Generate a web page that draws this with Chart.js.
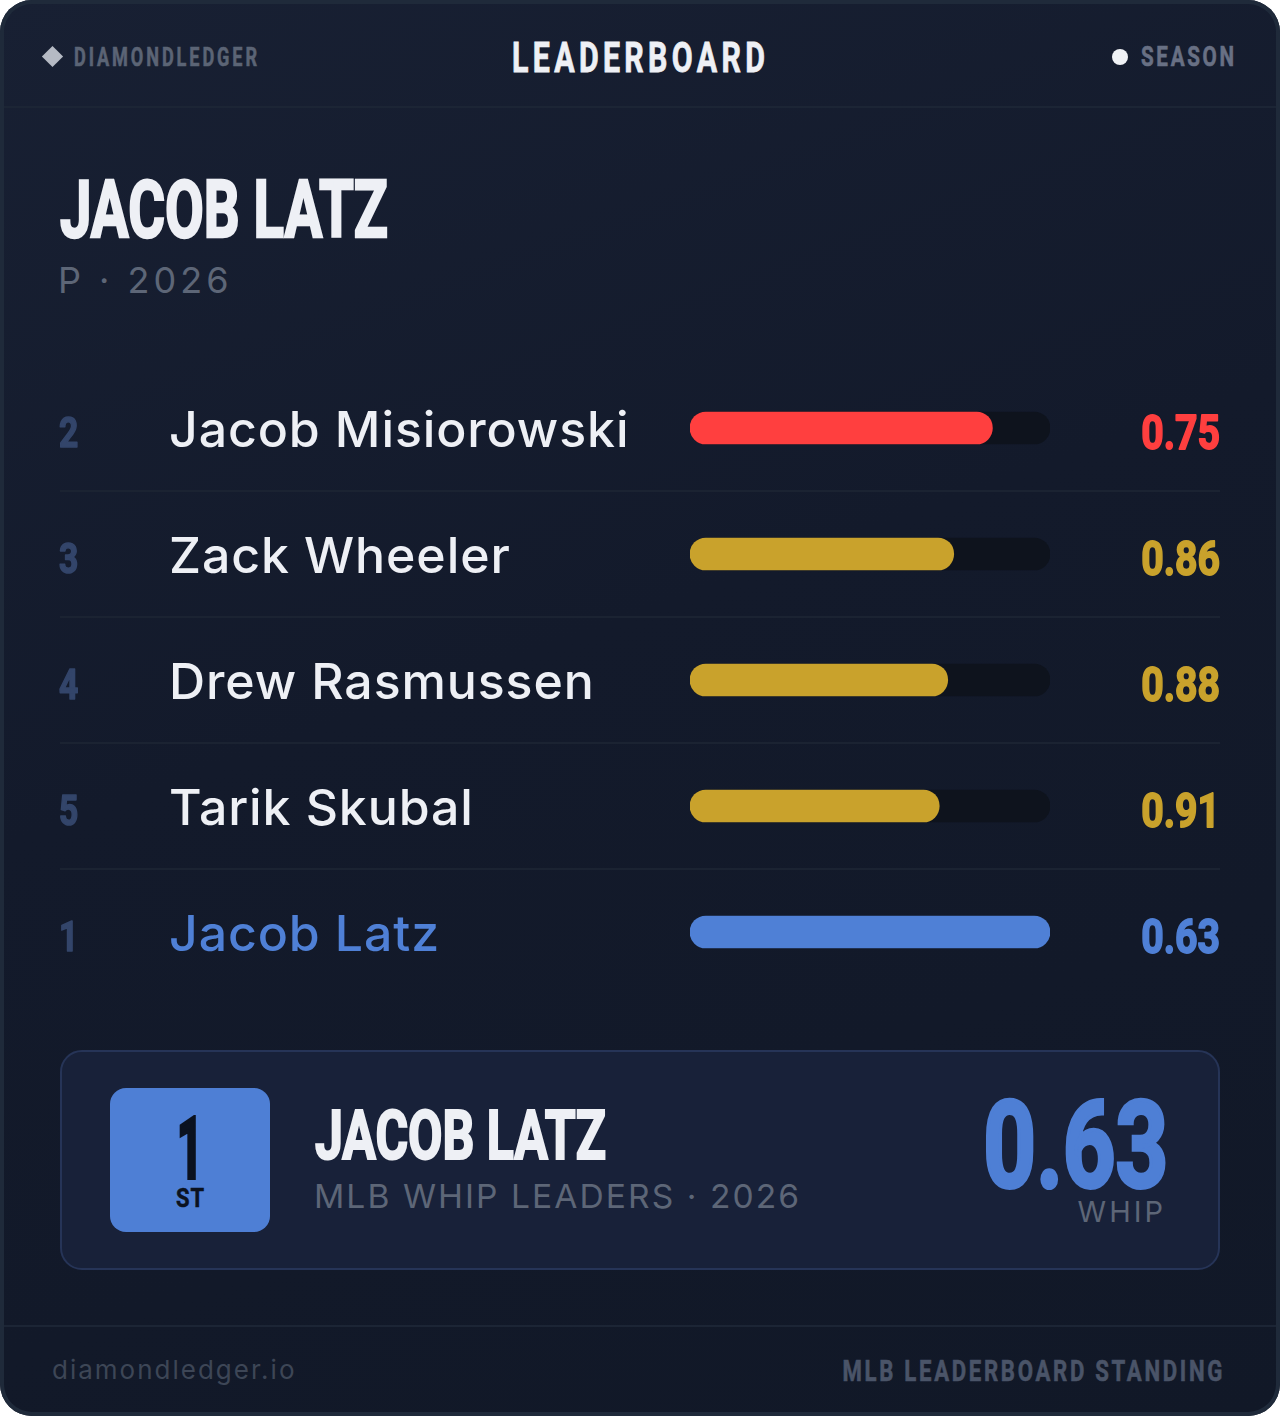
<!DOCTYPE html>
<html>
<head>
<meta charset="utf-8">
<script src="https://cdn.jsdelivr.net/npm/chart.js@4.4.1/dist/chart.umd.min.js"></script>
<style>
  html, body { margin: 0; padding: 0; background: #ffffff; }
  body { width: 1280px; height: 1416px; position: relative; overflow: hidden; font-family: Inter, 'Noto Sans', sans-serif; }
  .card {
    position: absolute; left: 0; top: 0; width: 1280px; height: 1416px;
    border-radius: 32px; box-shadow: inset 0 0 0 4px #1f2a3a;
    background: linear-gradient(160deg, #182033 0%, #131a2b 45%, #111827 100%);
  }
  .abs { position: absolute; white-space: nowrap; line-height: 1; }
  .cond { font-family: Roboto, 'Liberation Sans', sans-serif; font-weight: 700; transform-origin: 0 0; }
  .cond.r { transform-origin: 100% 0; }
  .line { position: absolute; left: 4px; right: 4px; height: 2px; background: #1c2535; }
  .diamond { left: 45px; top: 49px; width: 15px; height: 15px; background: #b5bac4; transform: rotate(45deg); }
  .brand { left: 74px; top: 45px; font-size: 25px; letter-spacing: 4px; color: #5b6475; -webkit-text-stroke: 0.6px #5b6475; }
  .title { left: 512px; top: 37px; font-size: 42px; letter-spacing: 6px; color: #eef0f5; -webkit-text-stroke: 0.8px #eef0f5; }
  .dot { left: 1112px; top: 49px; width: 16px; height: 16px; border-radius: 50%; background: #f0f2f6; }
  .season { left: 1141px; top: 44px; font-size: 27px; letter-spacing: 3.5px; color: #687084; -webkit-text-stroke: 0.6px #687084; }
  .player { left: 60px; top: 170px; font-size: 80px; color: #eef0f5; -webkit-text-stroke: 2.5px #eef0f5; }
  .sub { left: 58px; top: 262px; font-size: 36px; color: #5d6677; letter-spacing: 4px; }
  #chartBox { position: absolute; left: 0; top: 365px; width: 1280px; height: 630px; }
  .box {
    left: 60px; top: 1050px; width: 1160px; height: 220px; box-sizing: border-box;
    border: 2px solid #263457; border-radius: 22px; background: #182139;
  }
  .badge { left: 110px; top: 1088px; width: 160px; height: 144px; border-radius: 16px; background: #4e7fd5; }
  .badge1 { left: 177px; top: 1106px; font-size: 86px; color: #0b1220; -webkit-text-stroke: 4px #0b1220; }
  .badgeSt { left: 176px; top: 1186px; font-size: 25px; color: #0b1220; letter-spacing: 1px; -webkit-text-stroke: 0.5px #0b1220; }
  .bname { left: 315px; top: 1101px; font-size: 69px; color: #eef0f5; -webkit-text-stroke: 2.2px #eef0f5; }
  .bsub { left: 314px; top: 1180px; font-size: 33px; color: #5d6677; letter-spacing: 2px; }
  .bval { right: 112px; top: 1086px; font-size: 120px; color: #4e7fd5; -webkit-text-stroke: 4px #4e7fd5; }
  .bunit { right: 114px; top: 1197px; font-size: 29px; color: #5d6677; letter-spacing: 3px; }
  .site { left: 52px; top: 1357px; font-size: 26px; color: #3d4656; letter-spacing: 2px; }
  .stand { right: 55px; top: 1357px; font-size: 29px; color: #4a5468; letter-spacing: 3.5px; -webkit-text-stroke: 0.6px #4a5468; }
</style>
</head>
<body>
<div class="card"></div>
<div class="line" style="top:106px"></div>
<div class="abs diamond"></div>
<div class="abs brand cond" data-w="183">DIAMONDLEDGER</div>
<div class="abs title cond" data-w="253">LEADERBOARD</div>
<div class="abs dot"></div>
<div class="abs season cond" data-w="93">SEASON</div>

<div class="abs player cond" data-w="328">JACOB LATZ</div>
<div class="abs sub">P · 2026</div>

<div id="chartBox"><canvas id="board"></canvas></div>

<div class="abs box"></div>
<div class="abs badge"></div>
<div class="abs badge1 cond" data-w="26">1</div>
<div class="abs badgeSt cond" data-w="28">ST</div>
<div class="abs bname cond" data-w="291">JACOB LATZ</div>
<div class="abs bsub cond" style="font-family: Inter, sans-serif; font-weight: 400" data-w="485">MLB WHIP LEADERS · 2026</div>
<div class="abs bval cond r" data-w="185">0.63</div>
<div class="abs bunit">WHIP</div>

<div class="line" style="top:1325px"></div>
<div class="abs site">diamondledger.io</div>
<div class="abs stand cond r" data-w="380">MLB LEADERBOARD STANDING</div>

<script>
// --- leaderboard data (WHIP, lower is better) ---
const ranks   = ['2', '3', '4', '5', '1'];
const players = ['Jacob Misiorowski', 'Zack Wheeler', 'Drew Rasmussen', 'Tarik Skubal', 'Jacob Latz'];
const whip    = [0.75, 0.86, 0.88, 0.91, 0.63];
const barColors = ['#ff3f3f', '#c9a22c', '#c9a22c', '#c9a22c', '#4f80d6'];

// bar length: best WHIP / player WHIP (the leader fills the track)
const best = Math.min(...whip);
const share = whip.map(v => best / v);
const track = whip.map(() => 1);

// squeeze the bold headings to the narrow look of the original
document.querySelectorAll('[data-w]').forEach(el => {
    const ls = parseFloat(getComputedStyle(el).letterSpacing) || 0;
    const w = el.getBoundingClientRect().width - ls;
    el.style.transform = 'scaleX(' + (parseFloat(el.dataset.w) / w) + ')';
});

const COND = "Roboto, 'Liberation Sans', sans-serif";

function squeezed(ctx, text, x, y, sx, stroke) {
    ctx.save();
    ctx.translate(x, y);
    ctx.scale(sx, 1);
    ctx.fillText(text, 0, 0);
    ctx.strokeStyle = ctx.fillStyle;
    ctx.lineWidth = stroke;
    ctx.lineJoin = 'round';
    ctx.strokeText(text, 0, 0);
    ctx.restore();
}

const rowText = {
    id: 'rowText',
    afterDatasetsDraw(chart) {
        const ctx = chart.ctx;
        const y = chart.scales.y;
        ctx.save();
        ctx.textBaseline = 'alphabetic';
        ranks.forEach((r, i) => {
            const cy = y.getPixelForValue(i);
            const isLeader = r === '1';
            if (i > 0) {
                const sep = (y.getPixelForValue(i - 1) + cy) / 2;
                ctx.fillStyle = '#1b2332';
                ctx.fillRect(60, Math.round(sep) - 1, 1160, 2);
            }
            ctx.textAlign = 'left';
            ctx.fillStyle = '#33456a';
            ctx.font = '700 42px ' + COND;
            squeezed(ctx, r, 59, cy + 19, 0.8, 1.6);

            ctx.fillStyle = isLeader ? '#4f80d6' : '#eef0f5';
            ctx.font = "500 50px Inter, 'Noto Sans', sans-serif";
            ctx.letterSpacing = '0.9px';
            ctx.fillText(players[i], 169, cy + 19);
            ctx.letterSpacing = '0px';

            ctx.textAlign = 'right';
            ctx.fillStyle = barColors[i];
            ctx.font = '700 49px ' + COND;
            squeezed(ctx, whip[i].toFixed(2), 1220, cy + 21, 0.8, 1.8);
        });
        ctx.restore();
    }
};

new Chart(document.getElementById('board').getContext('2d'), {
    type: 'bar',
    data: {
        labels: players,
        datasets: [
            {
                label: 'WHIP',
                data: share,
                backgroundColor: barColors,
                borderRadius: 16,
                borderSkipped: false,
                barThickness: 32,
                grouped: false,
                order: 0
            },
            {
                label: 'track',
                data: track,
                backgroundColor: '#0e131d',
                borderRadius: 16,
                borderSkipped: false,
                barThickness: 32,
                grouped: false,
                order: 1
            }
        ]
    },
    options: {
        indexAxis: 'y',
        responsive: true,
        maintainAspectRatio: false,
        animation: false,
        layout: { padding: { left: 690, right: 230, top: 0, bottom: 0 } },
        plugins: { legend: { display: false }, tooltip: { enabled: false } },
        scales: {
            x: { display: false, min: 0, max: 1 },
            y: { display: false }
        }
    },
    plugins: [rowText]
});
</script>
</body>
</html>
